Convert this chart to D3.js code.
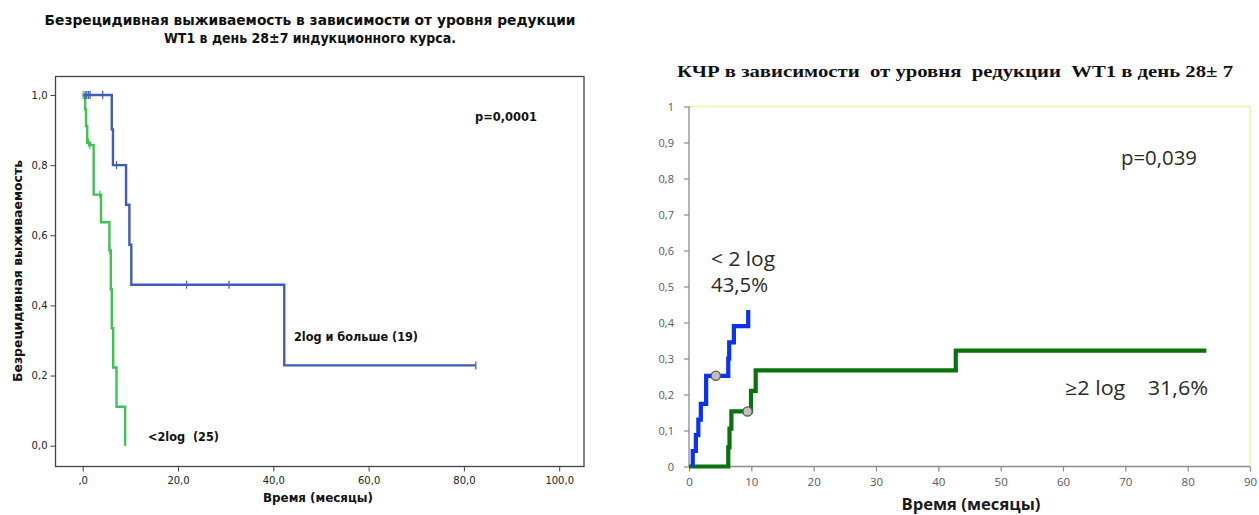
<!DOCTYPE html>
<html><head><meta charset="utf-8">
<script src="https://cdn.jsdelivr.net/npm/d3@7"></script>
<style>
html,body{margin:0;padding:0;background:#fff;}
svg{display:block;}
text{white-space:pre;}
</style></head>
<body><svg id="c" width="1259" height="515"></svg>
<script>
// ---------- LEFT CHART DATA (Kaplan–Meier, relapse-free survival) ----------
const leftTitle1 = "Безрецидивная выживаемость в зависимости от уровня редукции";
const leftTitle2 = "WT1 в день 28±7 индукционного курса.";
const leftYTicks = [0, 0.2, 0.4, 0.6, 0.8, 1.0];
const leftYTickLabels = ["0,0", "0,2", "0,4", "0,6", "0,8", "1,0"];
const leftXTicks = [0, 20, 40, 60, 80, 100];
const leftXTickLabels = [",0", "20,0", "40,0", "60,0", "80,0", "100,0"];
const blueTimes = [0, 6.1, 6.35, 9.1, 9.8, 10.2, 42.3, 82.5];
const blueSurv  = [1.0, 0.902, 0.80, 0.687, 0.573, 0.459, 0.229, 0.229];
const blueCensorT = [0.5, 0.85, 1.2, 1.55, 4.2, 7.1, 21.8, 30.7, 82.5];
const blueCensorS = [1.0, 1.0, 1.0, 1.0, 1.0, 0.80, 0.459, 0.459, 0.229];
const greenTimes = [0, 0.5, 0.7, 0.95, 1.5, 2.3, 3.85, 5.6, 5.9, 6.1, 6.4, 7.1, 8.9];
const greenSurv  = [1.0, 0.959, 0.912, 0.864, 0.857, 0.716, 0.637, 0.557, 0.446, 0.335, 0.223, 0.111, 0];
const greenCensorT = [0.1, 0.6, 0.8, 1.2, 1.5, 3.6, 5.7];
const greenCensorS = [1.0, 0.959, 0.912, 0.864, 0.857, 0.716, 0.557];
const leftPText = "p=0,0001";
const leftBlueLabel = "2log и больше (19)";
const leftGreenLabel = "<2log  (25)";
const leftYLabel = "Безрецидивная выживаемость";
const leftXLabel = "Время (месяцы)";

// ---------- RIGHT CHART DATA (cumulative incidence of CR) ----------
const rightTitle = "КЧР в зависимости  от уровня  редукции  WT1 в день 28± 7";
const rightYTicks = [0, 0.1, 0.2, 0.3, 0.4, 0.5, 0.6, 0.7, 0.8, 0.9, 1];
const rightYTickLabels = ["0", "0,1", "0,2", "0,3", "0,4", "0,5", "0,6", "0,7", "0,8", "0,9", "1"];
const rightXTicks = [0, 10, 20, 30, 40, 50, 60, 70, 80, 90];
const rightXTickLabels = ["0", "10", "20", "30", "40", "50", "60", "70", "80", "90"];
const rBlueTimes = [0.6, 0.6, 1.1, 1.5, 1.9, 2.75, 2.75, 6.3, 6.45, 7.2, 9.5];
const rBlueCum   = [0, 0.043, 0.087, 0.13, 0.174, 0.217, 0.252, 0.30, 0.345, 0.39, 0.435];
const rGreenTimes = [0, 6.3, 6.5, 6.8, 9.95, 10.7, 42.8, 83];
const rGreenCum   = [0, 0.053, 0.105, 0.153, 0.21, 0.267, 0.322, 0.322];
const rCensorT = [4.3, 9.4];
const rCensorV = [0.252, 0.153];
const rightPText = "p=0,039";
const rightBlueLabel1 = "< 2 log";
const rightBlueLabel2 = "43,5%";
const rightGreenLabel = "≥2 log    31,6%";
const rightXLabel = "Время (месяцы)";

const svg = d3.select("#c");

// =================== LEFT ===================
const L = svg.append("g");
const xL = d3.scaleLinear().domain([0, 100]).range([82.7, 559.2]);
const yL = d3.scaleLinear().domain([0, 1]).range([445.7, 95]);
const frame = {x0: 55.5, x1: 584, y0: 76.5, y1: 466.5};
const condensed = "'DejaVu Sans Condensed','DejaVu Sans',sans-serif";

L.append("text").attr("x", 310).attr("y", 25).attr("text-anchor", "middle")
  .attr("font-family", condensed).attr("font-weight", "bold").attr("font-size", 13.5)
  .attr("textLength", 531).attr("lengthAdjust", "spacingAndGlyphs").attr("fill", "#111").text(leftTitle1);
L.append("text").attr("x", 310).attr("y", 43).attr("text-anchor", "middle")
  .attr("font-family", condensed).attr("font-weight", "bold").attr("font-size", 13.5)
  .attr("textLength", 292).attr("lengthAdjust", "spacingAndGlyphs").attr("fill", "#111").text(leftTitle2);

L.append("rect").attr("x", frame.x0).attr("y", frame.y0)
  .attr("width", frame.x1 - frame.x0).attr("height", frame.y1 - frame.y0)
  .attr("fill", "none").attr("stroke", "#444").attr("stroke-width", 1.3);

// y axis
const gyL = L.append("g").attr("transform", `translate(${frame.x0},0)`)
  .call(d3.axisLeft(yL).tickValues(leftYTicks).tickSize(5).tickPadding(3)
    .tickFormat((d, i) => leftYTickLabels[i]));
gyL.select(".domain").remove();
gyL.selectAll("line").attr("stroke", "#444");
gyL.selectAll("text").attr("font-family", "'DejaVu Sans',sans-serif").attr("font-size", 10).attr("fill", "#222");

// x axis
const gxL = L.append("g").attr("transform", `translate(0,${frame.y1})`)
  .call(d3.axisBottom(xL).tickValues(leftXTicks).tickSize(5).tickPadding(5)
    .tickFormat((d, i) => leftXTickLabels[i]));
gxL.select(".domain").remove();
gxL.selectAll("line").attr("stroke", "#444");
gxL.selectAll("text").attr("font-family", "'DejaVu Sans',sans-serif").attr("font-size", 10).attr("fill", "#222");

L.append("text").attr("transform", "translate(22,271) rotate(-90)").attr("text-anchor", "middle")
  .attr("font-family", condensed).attr("font-weight", "bold").attr("font-size", 12)
  .attr("textLength", 222).attr("lengthAdjust", "spacingAndGlyphs").attr("fill", "#111").text(leftYLabel);
L.append("text").attr("x", 318).attr("y", 502).attr("text-anchor", "middle")
  .attr("font-family", condensed).attr("font-weight", "bold").attr("font-size", 13)
  .attr("textLength", 110).attr("lengthAdjust", "spacingAndGlyphs").attr("fill", "#111").text(leftXLabel);

const stepL = d3.line().x(d => xL(d[0])).y(d => yL(d[1])).curve(d3.curveStepAfter);
const blueCol = "#3e5cb8", greenCol = "#3ec451";
L.append("path").attr("d", stepL(greenTimes.map((t, i) => [t, greenSurv[i]])))
  .attr("fill", "none").attr("stroke", greenCol).attr("stroke-width", 2.4);
L.append("path").attr("d", stepL(blueTimes.map((t, i) => [t, blueSurv[i]])))
  .attr("fill", "none").attr("stroke", blueCol).attr("stroke-width", 2.4);
L.selectAll(".cb").data(blueCensorT).enter().append("line")
  .attr("x1", d => xL(d)).attr("x2", d => xL(d))
  .attr("y1", (d, i) => yL(blueCensorS[i]) - 4).attr("y2", (d, i) => yL(blueCensorS[i]) + 4)
  .attr("stroke", blueCol).attr("stroke-width", 1.2);
L.selectAll(".cg").data(greenCensorT).enter().append("line")
  .attr("x1", d => xL(d)).attr("x2", d => xL(d))
  .attr("y1", (d, i) => yL(greenCensorS[i]) - 4).attr("y2", (d, i) => yL(greenCensorS[i]) + 4)
  .attr("stroke", greenCol).attr("stroke-width", 1.2);

const lblL = (x, y, t, w) => L.append("text").attr("x", x).attr("y", y)
  .attr("font-family", condensed).attr("font-weight", "bold").attr("font-size", 11.5)
  .attr("textLength", w).attr("lengthAdjust", "spacingAndGlyphs").attr("fill", "#111").text(t);
lblL(475, 121, leftPText, 62);
lblL(294, 341, leftBlueLabel, 124);
lblL(148, 441, leftGreenLabel, 71);

// =================== RIGHT ===================
const R = svg.append("g");
const xR = d3.scaleLinear().domain([0, 90]).range([689, 1250]);
const yR = d3.scaleLinear().domain([0, 1]).range([466.5, 106.5]);

R.append("text").attr("x", 955).attr("y", 77).attr("text-anchor", "middle")
  .attr("font-family", "'Liberation Serif','Times New Roman',serif").attr("font-weight", "bold").attr("font-size", 16)
  .attr("textLength", 556).attr("lengthAdjust", "spacingAndGlyphs").attr("fill", "#111").text(rightTitle);

// pale yellow plot border top/right
R.append("line").attr("x1", xR(0)).attr("x2", xR(90)).attr("y1", yR(1)).attr("y2", yR(1))
  .attr("stroke", "#f3f39a").attr("stroke-width", 1.5);
R.append("line").attr("x1", xR(90)).attr("x2", xR(90)).attr("y1", yR(1)).attr("y2", yR(0))
  .attr("stroke", "#f3f39a").attr("stroke-width", 1.5);

const axCol = "#8c8c8c";
const gyR = R.append("g").attr("transform", `translate(${xR(0)},0)`)
  .call(d3.axisLeft(yR).tickValues(rightYTicks).tickSize(5).tickPadding(10)
    .tickFormat((d, i) => rightYTickLabels[i]));
gyR.select(".domain").attr("stroke", axCol).attr("stroke-width", 1.3).attr("d", `M0,${yR(1)}V${yR(0)}`);
gyR.selectAll("line").attr("stroke", axCol).attr("stroke-width", 1.2);
gyR.selectAll("text").attr("font-family", "'Open Sans',sans-serif").attr("font-size", 11).attr("fill", "#595959");

const gxR = R.append("g").attr("transform", `translate(0,${yR(0)})`)
  .call(d3.axisBottom(xR).tickValues(rightXTicks).tickSize(5).tickPadding(6)
    .tickFormat((d, i) => rightXTickLabels[i]));
gxR.select(".domain").attr("stroke", axCol).attr("stroke-width", 1.3).attr("d", `M${xR(0)},0H${xR(90)}`);
gxR.selectAll("line").attr("stroke", axCol).attr("stroke-width", 1.2);
gxR.selectAll("text").attr("font-family", "'Open Sans',sans-serif").attr("font-size", 11.5).attr("fill", "#595959");

const stepR = d3.line().x(d => xR(d[0])).y(d => yR(d[1])).curve(d3.curveStepAfter);
R.append("path").attr("d", stepR(rGreenTimes.map((t, i) => [t, rGreenCum[i]])))
  .attr("fill", "none").attr("stroke", "#0a720a").attr("stroke-width", 4.2);
R.append("path").attr("d", stepR(rBlueTimes.map((t, i) => [t, rBlueCum[i]])))
  .attr("fill", "none").attr("stroke", "#0a32f0").attr("stroke-width", 4.2);
R.selectAll(".cr").data(rCensorT).enter().append("circle")
  .attr("cx", d => xR(d)).attr("cy", (d, i) => yR(rCensorV[i])).attr("r", 4.6)
  .attr("fill", "#c0c0c0").attr("stroke", "#5a5a5a").attr("stroke-width", 1.3);

const lblR = (x, y, t, size, w) => R.append("text").attr("x", x).attr("y", y)
  .attr("font-family", "'Open Sans',sans-serif").attr("font-size", size)
  .attr("textLength", w).attr("lengthAdjust", "spacingAndGlyphs")
  .attr("fill", "#2a2a2a").text(t);
lblR(1121, 165, rightPText, 19.5, 76);
lblR(711, 266, rightBlueLabel1, 19.5, 64);
lblR(711, 292, rightBlueLabel2, 19.5, 57);
lblR(1065, 395, rightGreenLabel, 19.5, 143);

R.append("text").attr("x", 971).attr("y", 510).attr("text-anchor", "middle")
  .attr("font-family", "'Open Sans',sans-serif").attr("font-weight", "bold").attr("font-size", 15.5)
  .attr("textLength", 139).attr("lengthAdjust", "spacingAndGlyphs")
  .attr("fill", "#1a1a1a").text(rightXLabel);
</script></body></html>
